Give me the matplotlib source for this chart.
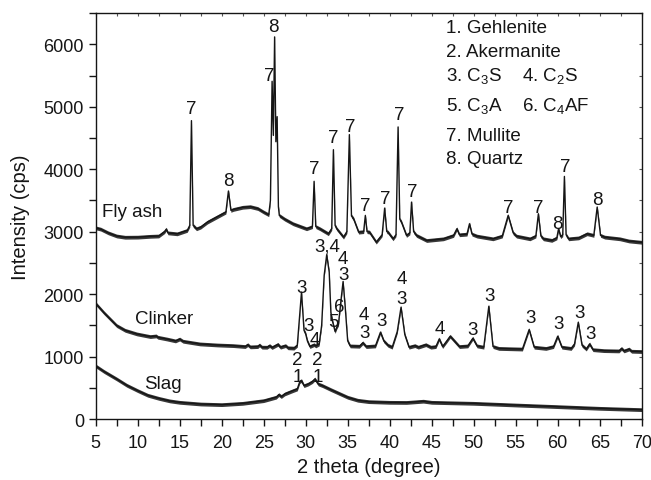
import matplotlib
matplotlib.use("Agg")
import matplotlib.pyplot as plt
from matplotlib.ticker import MultipleLocator

plt.rcParams['font.family'] = ['Liberation Sans', 'DejaVu Sans']
plt.rcParams['mathtext.default'] = 'regular'

# ---- diffraction traces (2 theta in degrees, intensity in cps) ----
fly_ash_2theta = [5.0, 5.6, 6.5, 7.5, 8.5, 10.0, 11.5, 12.5, 13.2, 13.4, 13.6, 14.7, 15.9, 16.2, 16.4,
                  16.6, 17.0, 17.5, 18.3, 19.4, 20.5, 20.8, 21.1, 21.4, 22.5, 23.4, 24.3, 25.0, 25.6,
                  25.8, 26.0, 26.15, 26.3, 26.45, 26.6, 26.75, 26.86, 27.5, 28.5, 30.1, 30.8, 31.0,
                  31.2, 31.7, 32.7, 33.1, 33.3, 33.5, 33.7, 34.5, 34.9, 35.2, 35.45, 35.7, 36.3, 36.9,
                  37.1, 37.3, 37.6, 38.4, 39.1, 39.4, 39.65, 39.8, 40.4, 40.75, 41.0, 41.2, 41.4, 42.0,
                  42.4, 42.6, 42.85, 43.2, 44.4, 46.4, 47.6, 48.0, 48.3, 49.2, 49.5, 49.8, 50.4, 52.3,
                  53.4, 54.1, 54.7, 55.1, 56.7, 57.4, 57.7, 58.0, 58.3, 59.3, 59.9, 60.1, 60.35, 60.6,
                  60.8, 61.0, 61.3, 62.5, 63.5, 64.3, 64.7, 65.1, 65.6, 67.4, 68.5, 70.0]
fly_ash_cps = [3060, 3040, 2980, 2930, 2910, 2912, 2925, 2930, 3000, 3040, 2980, 2965, 3020, 3100, 4777,
               3100, 3046, 3072, 3153, 3233, 3313, 3650, 3340, 3356, 3390, 3400, 3370, 3313, 3270,
               3500, 5407, 4541, 6118, 4440, 4841, 3400, 3259, 3200, 3126, 3046, 3080, 3805,
               3080, 3046, 2966, 3050, 4312, 3100, 3046, 2912, 3000, 4553, 3250, 3206, 2992, 3000,
               3259, 3000, 2992, 2832, 2950, 3377, 3000, 2992, 2885, 2950, 4676, 3200, 3153, 2939,
               2980, 3473, 3000, 2939, 2858, 2885, 2939, 3046, 2950, 2960, 3126, 2960, 2928, 2885,
               2930, 3259, 2980, 2928, 2885, 2930, 3286, 2930, 2885, 2860, 2900, 3046, 2920, 2950,
               3884, 2950, 2885, 2900, 2966, 2940, 3393, 2940, 2912, 2885, 2850, 2830]

clinker_2theta = [5.0, 6.0, 7.5, 8.5, 9.9, 11.5, 12.2, 12.4, 13.5, 14.5, 15.0, 15.4, 17.4, 19.5, 21.4,
                  22.8, 23.1, 23.4, 24.3, 24.5, 24.8, 25.4, 25.7, 26.0, 26.7, 27.0, 27.6, 27.9, 28.6,
                  29.0, 29.5, 29.8, 30.0, 30.2, 30.5, 31.0, 31.2, 31.6, 31.9, 32.2, 32.5, 32.8, 33.0,
                  33.2, 33.35, 33.5, 33.7, 33.9, 34.2, 34.45, 34.7, 35.0, 35.3, 36.4, 36.8, 37.2, 38.3,
                  38.9, 39.3, 39.8, 40.3, 40.9, 41.35, 41.8, 42.3, 43.0, 43.4, 44.3, 44.9, 45.5, 45.9,
                  46.3, 46.8, 47.2, 47.7, 48.3, 49.3, 49.9, 50.4, 51.2, 51.8, 52.3, 53.0, 55.8, 56.6,
                  57.2, 58.6, 59.5, 60.0, 60.5, 61.6, 62.0, 62.45, 62.9, 63.4, 63.8, 64.2, 65.5, 67.3,
                  67.6, 67.9, 68.5, 68.8, 70.0]
clinker_cps = [1850, 1700, 1496, 1420, 1362, 1320, 1330, 1309, 1280, 1250, 1280, 1245, 1202, 1185, 1175,
               1160, 1190, 1155, 1160, 1185, 1150, 1149, 1175, 1145, 1195, 1150, 1175, 1140, 1135,
               1180, 2031, 1420, 1362, 1250, 1160, 1190, 1170, 1200, 1500, 2300, 2630, 2350, 1700,
               1560, 1480, 1400, 1470, 1520, 1900, 2201, 1800, 1250, 1170, 1165, 1220, 1160, 1170,
               1389, 1250, 1180, 1150, 1400, 1790, 1350, 1150, 1175, 1150, 1190, 1150, 1160, 1282,
               1160, 1250, 1325, 1250, 1160, 1170, 1293, 1170, 1150, 1806, 1160, 1130, 1120, 1432,
               1150, 1130, 1160, 1325, 1150, 1130, 1200, 1549, 1180, 1120, 1202, 1110, 1095, 1090,
               1130, 1090, 1120, 1085, 1080]

slag_2theta = [5.0, 6.0, 7.5, 8.7, 10.0, 11.2, 12.5, 13.8, 15.0, 17.5, 20.0, 22.5, 25.0, 26.5, 26.8,
               27.1, 27.5, 28.4, 29.0, 29.3, 29.5, 29.8, 30.3, 30.8, 31.1, 31.5, 32.0, 33.0, 35.0,
               36.2, 37.5, 40.0, 42.0, 44.0, 45.0, 50.0, 55.0, 60.0, 65.0, 70.0]
slag_cps = [850, 760, 641, 540, 454, 380, 331, 290, 267, 240, 230, 251, 294, 350, 390,
            360, 401, 450, 481, 600, 614, 534, 560, 600, 641, 560, 534, 470, 348,
            300, 278, 267, 265, 285, 267, 251, 224, 198, 171, 150]

# ---- sample names ----
sample_names = ["Fly ash", "Clinker", "Slag"]
sample_name_pos = [(5.7, 3323), (9.7, 1603), (10.75, 561)]

# ---- phase markers: (2 theta, intensity, label) ----
fly_ash_marks = [(16.4, 4970, "7"), (20.8, 3820, "8"), (25.65, 5503, "7"), (26.2, 6279, "8"),
                 (31.0, 4008, "7"), (33.3, 4500, "7"), (35.3, 4676, "7"), (37.1, 3419, "7"),
                 (39.45, 3537, "7"), (41.1, 4878, "7"), (42.7, 3650, "7"), (54.1, 3393, "7"),
                 (57.7, 3393, "7"), (60.0, 3126, "8"), (60.9, 4045, "7"), (64.7, 3510, "8")]
clinker_marks = [(29.5, 2111, "3"), (30.35, 1502, "3"), (31.1, 1272, "4"), (32.55, 2778, "3,4"),
                 (34.45, 2570, "4"), (34.45, 2318, "3"), (33.25, 1560, "5"), (34.0, 1800, "6"),
                 (36.95, 1667, "4"), (36.95, 1389, "3"), (39.05, 1576, "3"), (41.4, 2244, "4"),
                 (41.4, 1935, "3"), (46.0, 1453, "4"), (49.9, 1437, "3"), (51.85, 1977, "3"),
                 (56.75, 1629, "3"), (60.05, 1533, "3"), (62.6, 1709, "3"), (63.95, 1367, "3")]
slag_marks = [(29.05, 951, "2"), (29.05, 684, "1"), (31.35, 951, "2"), (31.5, 684, "1")]

# ---- phase key ----
key_lines = ["1. Gehlenite", "2. Akermanite", "3. C$_3$S", "5. C$_3$A", "7. Mullite", "8. Quartz"]
key_lines_right = ["", "", "4. C$_2$S", "6. C$_4$AF", "", ""]
key_y = [6263, 5878, 5503, 5022, 4541, 4179]

fig = plt.figure(figsize=(6.51, 4.81), dpi=100)
ax = fig.add_axes([0.147, 0.1268, 0.8387, 0.8440])

ink = "#151515"
noise_half = 30
for xs, ys in [(fly_ash_2theta, fly_ash_cps), (clinker_2theta, clinker_cps), (slag_2theta, slag_cps)]:
    ax.plot(xs, ys, color=ink, lw=1.0)
    ax.fill_between(xs, [v - noise_half for v in ys], [v + noise_half for v in ys],
                    color=ink, lw=0, alpha=0.85)

fs = 13.5
for name, (x, y) in zip(sample_names, sample_name_pos):
    ax.text(x, y, name, fontsize=fs, ha="left", va="center", color=ink)

for marks in (fly_ash_marks, clinker_marks, slag_marks):
    for x, y, lab in marks:
        ax.text(x, y, lab, fontsize=fs, ha="center", va="center", color=ink)

for lab, lab_r, y in zip(key_lines, key_lines_right, key_y):
    ax.text(46.7, y, lab, fontsize=fs, ha="left", va="center", color=ink)
    if lab_r:
        ax.text(55.7, y, lab_r, fontsize=fs, ha="left", va="center", color=ink)

ax.set_xlim(5, 70)
ax.set_ylim(0, 6500)
ax.xaxis.set_major_locator(MultipleLocator(5))
ax.xaxis.set_minor_locator(MultipleLocator(2.5))
ax.yaxis.set_major_locator(MultipleLocator(1000))
ax.yaxis.set_minor_locator(MultipleLocator(500))
ax.tick_params(axis="both", which="both", direction="out", length=5, width=1.0,
               labelsize=13, colors=ink, top=False, right=False)
ax.tick_params(axis="x", which="major", pad=6)

# inner ticks on top and right edges
sec_x = ax.secondary_xaxis("top")
sec_x.xaxis.set_major_locator(MultipleLocator(2.5))
sec_x.tick_params(direction="in", length=2.5, width=0.8, labeltop=False, colors="#555555")
sec_y = ax.secondary_yaxis("right")
sec_y.yaxis.set_major_locator(MultipleLocator(500))
sec_y.tick_params(direction="in", length=2.5, width=0.8, labelright=False, colors="#555555")
for s in (sec_x, sec_y):
    for sp in s.spines.values():
        sp.set_visible(False)

for sp in ax.spines.values():
    sp.set_linewidth(1.0)
    sp.set_color(ink)

ax.set_xlabel("2 theta (degree)", fontsize=14.5, color=ink, labelpad=4)
ax.set_ylabel("Intensity (cps)", fontsize=14.5, color=ink, labelpad=10)

fig.savefig("out.png", dpi=100)
